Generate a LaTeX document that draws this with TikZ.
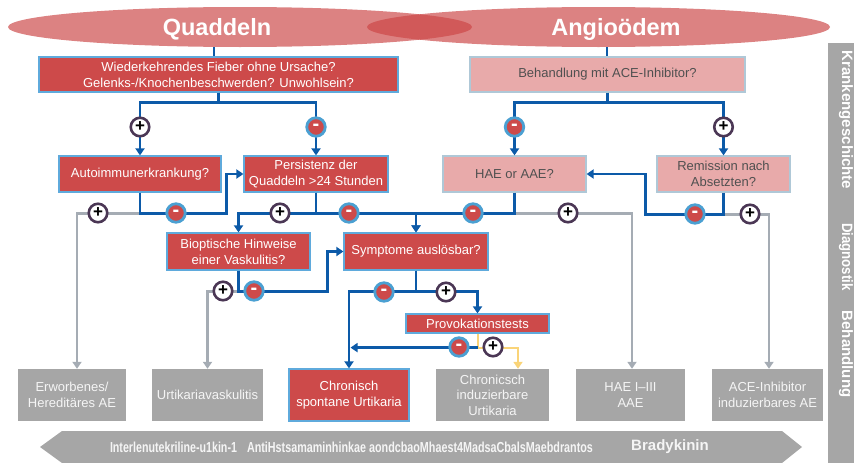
\documentclass[tikz,border=0pt]{standalone}
\usepackage{fontspec}
\setmainfont{Liberation Sans}
\usetikzlibrary{arrows.meta,shapes.geometric,calc}
\definecolor{redbox}{RGB}{205,74,74}
\definecolor{pinkbox}{RGB}{232,170,170}
\definecolor{ellc}{RGB}{203,68,68}
\definecolor{bordblue}{RGB}{95,170,220}
\definecolor{pinkbord}{RGB}{175,200,215}
\definecolor{blueline}{RGB}{12,90,168}
\definecolor{greyline}{RGB}{165,172,180}
\definecolor{greybox}{RGB}{166,166,166}
\definecolor{yellowline}{RGB}{250,212,120}
\definecolor{purp}{RGB}{75,55,85}
\definecolor{minusbord}{RGB}{75,160,210}
\definecolor{darktext}{RGB}{80,80,80}
\definecolor{lighttext}{RGB}{245,245,245}
\tikzset{
  ell/.style={ellipse, fill=ellc, fill opacity=0.67, draw=none, inner sep=0pt},
  titletext/.style={text=white, font=\fontsize{23.5}{26}\selectfont\bfseries},
  rbox/.style={rectangle, fill=redbox, draw=bordblue, line width=1.2pt, text=white,
    font=\fontsize{13}{16}\selectfont, align=center, inner sep=0pt},
  pbox/.style={rectangle, fill=pinkbox, draw=pinkbord, line width=1.2pt, text=darktext,
    font=\fontsize{13}{16}\selectfont, align=center, inner sep=0pt},
  gbox/.style={rectangle, fill=greybox, draw=none, text=lighttext,
    font=\fontsize{13}{15.5}\selectfont, align=center, inner sep=0pt},
  bl/.style={draw=blueline, line width=2.8pt},
  gr/.style={draw=greyline, line width=2.4pt},
  ye/.style={draw=yellowline, line width=2pt},
  tip/.style={-{Triangle[length=7pt,width=9pt]}},
  plusc/.style={circle, fill=white, draw=purp, line width=2.6pt, minimum size=18.5pt,
    inner sep=0pt, text=black, font=\fontsize{17}{17}\selectfont\bfseries},
  minusc/.style={circle, fill=redbox, draw=minusbord, line width=2.8pt, minimum size=18.5pt,
    inner sep=0pt, text=white, font=\fontsize{20}{20}\selectfont\bfseries},
  sidetext/.style={rotate=-90, text=white, font=\fontsize{15}{15}\selectfont\bfseries},
}
\begin{document}
\begin{tikzpicture}[x=1pt,y=-1pt]
\useasboundingbox (0,0) rectangle (854,463);

% title ellipses
\node[ell, minimum width=464pt, minimum height=40pt] (qe) at (240,27) {};
\node[ell, minimum width=463pt, minimum height=40pt] (ae) at (598.5,27) {};
\node[titletext] (qt) at (217,29) {Quaddeln};
\node[titletext] (at) at (616,29) {Angioödem};

% side bar
\fill[greybox] (828,43) rectangle (854,463);
\node[sidetext] (s1) at (846,120) {Krankengeschichte};
\node[sidetext] (s2) at (846,257) {\scalebox{0.88}[1]{Diagnostik}};
\node[sidetext] (s3) at (846,354) {Behandlung};

% bottom arrow
\fill[greybox] (40,447) -- (62,431) -- (782,431) -- (802,447) -- (782,463) -- (62,463) -- cycle;
\node[text=lighttext] (t1) at (173.5,447) {\resizebox{127pt}{10.5pt}{\bfseries Interlenutekriline-u1kin-1}};
\node[text=lighttext] (t2) at (420,447) {\resizebox{346pt}{10.5pt}{\bfseries AntiHstsamaminhinkae aondcbaoMhaest4MadsaCbalsMaebdrantos}};
\node[text=lighttext, font=\fontsize{15}{15}\selectfont\bfseries] (t3) at (670,447) {Bradykinin};

% boxes
\node[rbox, minimum width=359pt, minimum height=35pt] (box1) at (218.5,74.5)
  {Wiederkehrendes Fieber ohne Ursache?\\Gelenks-/Knochenbeschwerden? Unwohlsein?};
\node[pbox, minimum width=275pt, minimum height=35pt] (ace) at (607.5,74.5)
  {Behandlung mit ACE-Inhibitor?};
\node[rbox, minimum width=162pt, minimum height=36pt] (auto) at (140,174) {Autoimmunerkrankung?};
\node[rbox, minimum width=144pt, minimum height=36pt] (pers) at (316,174) {Persistenz der\\Quaddeln >24 Stunden};
\node[pbox, minimum width=143pt, minimum height=36pt] (hae) at (514.5,174) {HAE or AAE?};
\node[pbox, minimum width=133pt, minimum height=36pt] (rem) at (723.5,174) {Remission nach\\Absetzten?};
\node[rbox, minimum width=143pt, minimum height=37pt] (biop) at (238.5,251.5) {Bioptische Hinweise\\einer Vaskulitis?};
\node[rbox, minimum width=144pt, minimum height=37pt] (sympt) at (416,251.5) {Symptome auslösbar?};
\node[rbox, minimum width=143pt, minimum height=19pt] (prov) at (477.5,323.5) {Provokationstests};

\node[gbox, minimum width=108pt, minimum height=52pt] (b1) at (72,395) {Erworbenes/\\Hereditäres AE};
\node[gbox, minimum width=111pt, minimum height=52pt] (b2) at (207.5,395) {Urtikariavaskulitis};
\node[rbox, minimum width=120pt, minimum height=52pt] (b3) at (349,395) {Chronisch\\spontane Urtikaria};
\node[gbox, minimum width=113pt, minimum height=52pt] (b4) at (492.5,395) {Chronicsch\\induzierbare\\Urtikaria};
\node[gbox, minimum width=109pt, minimum height=52pt] (b5) at (630.5,395) {HAE I–III\\AAE};
\node[gbox, minimum width=111pt, minimum height=52pt] (b6) at (767.5,395) {ACE-Inhibitor\\induzierbares AE};

% connectors: grey first
\draw[gr,tip] ($(auto.south)+(0,21)$) -| ([xshift=5pt]b1.north);
\draw[gr,tip] ($(biop.south)+(0,21)$) -| (b2.north);
\draw[gr,tip] ($(hae.south)+(0,21)$) -| ([xshift=1.5pt]b5.north);
\draw[gr,tip] ($(rem.south)+(0,22)$) -| ([xshift=1.5pt]b6.north);

% blue connectors
\draw[bl] (qe.south) ++(-26,0) coordinate (qj) -- (qj |- box1.north);
\draw[bl] (ae.south) ++(8.5,0) coordinate (aj) -- (aj |- ace.north);
\draw[bl,tip] (box1.south) -- ++(0,10) -| (auto.north);
\draw[bl,tip] (box1.south) -- ++(0,10) -| (pers.north);
\draw[bl,tip] (ace.south) -- ++(0,10) -| (hae.north);
\draw[bl,tip] (ace.south) -- ++(0,10) -| (rem.north);
\draw[bl,tip] (auto.south) -- ++(0,21) -| ([xshift=-17pt]pers.west) -- (pers.west);
\draw[bl,tip] (pers.south) -- ++(0,21) -| (biop.north);
\draw[bl,tip] (pers.south) -- ++(0,21) -| (sympt.north);
\draw[bl,tip] (hae.south) -- ++(0,21) -| (sympt.north);
\draw[bl,tip] (rem.south) -- ++(0,22) -| ([xshift=59pt]hae.east) -- (hae.east);
\draw[bl,tip] (biop.south) -- ++(0,21) -| ([xshift=-16pt]sympt.west) -- (sympt.west);
\draw[bl,tip] (sympt.south) -- ++(0,21) -| (b3.north);
\draw[bl,tip] (sympt.south) -- ++(0,21) -| (prov.north);
\coordinate (pj) at ($(prov.south)+(0,14)$);
\draw[ye] (prov.south) -- (pj);
\draw[ye,tip] (pj) -| ([xshift=25.5pt]b4.north);
\draw[bl,tip] (pj) -- ([xshift=1.5pt]pj -| b3.north);

% decision circles
\node[plusc] (c1) at (140,127) {+};
\node[minusc] (c2) at (316,127) {-};
\node[minusc] (c3) at (514.5,127) {-};
\node[plusc] (c4) at (723.5,127) {+};
\node[plusc] (c5) at (98,213) {+};
\node[minusc] (c6) at (176,213) {-};
\node[plusc] (c7) at (280,213) {+};
\node[minusc] (c8) at (349,213) {-};
\node[minusc] (c9) at (473,213) {-};
\node[plusc] (c10) at (568,213) {+};
\node[minusc] (c11) at (695,214) {-};
\node[plusc] (c12) at (750,214) {+};
\node[plusc] (c13) at (223,291) {+};
\node[minusc] (c14) at (254,291) {-};
\node[minusc] (c15) at (384,292) {-};
\node[plusc] (c16) at (446,292) {+};
\node[minusc] (c17) at (459,347) {-};
\node[plusc] (c18) at (493,347) {+};
\end{tikzpicture}
\end{document}
